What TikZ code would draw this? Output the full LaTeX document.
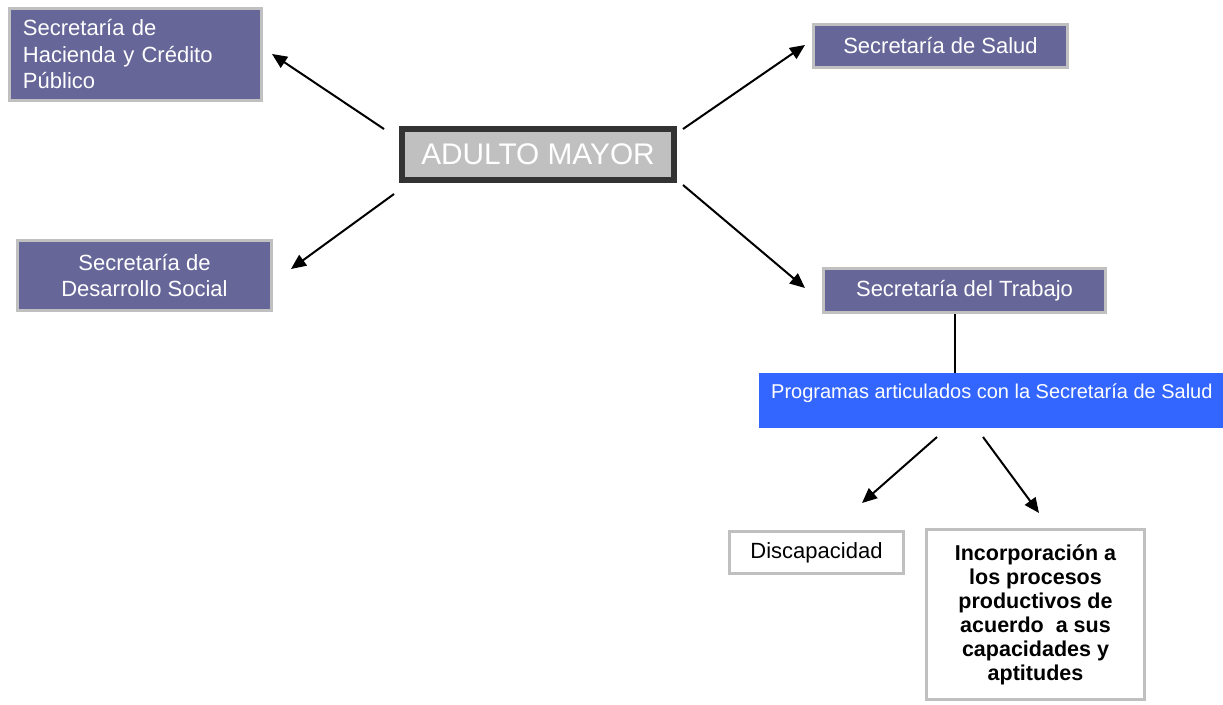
\documentclass[tikz,border=0pt]{standalone}
\usepackage{fontspec}
\setmainfont{Liberation Sans}
\usetikzlibrary{arrows.meta, positioning}
\definecolor{secpurple}{RGB}{102,102,153}
\definecolor{boxgray}{RGB}{192,192,192}
\definecolor{darkframe}{RGB}{51,51,51}
\definecolor{progblue}{RGB}{51,102,255}

\begin{document}
\begin{tikzpicture}[x=1pt, y=-1pt,
    secbox/.style={draw=boxgray, line width=3pt, fill=secpurple, text=white,
        font=\fontsize{22}{26.5}\selectfont, align=center, inner sep=0pt},
    whitebox/.style={draw=boxgray, line width=3pt, fill=white, text=black,
        font=\fontsize{22}{24}\selectfont, align=center, inner sep=0pt},
    arr/.style={line width=2pt, -{Triangle[length=15pt, width=13pt]}}]
\useasboundingbox (0,0) rectangle (1223,704);
% Central node
\node[draw=darkframe, line width=6pt, fill=boxgray, text=white,
    font=\fontsize{29.8}{32}\selectfont, minimum width=272, minimum height=51,
    inner sep=0pt] (adulto) at (538,154.5) {ADULTO MAYOR};
% Secretarias
\node[secbox, align=left, text width=225, inner xsep=13.5pt,
    minimum width=252, minimum height=92] (hacienda) at (135.5,54.5)
    {Secretaría de\\Hacienda y Crédito\\Público};
\node[secbox, minimum width=254, minimum height=43] (salud) at (940.5,46)
    {Secretaría de Salud};
\node[secbox, font=\fontsize{22}{26}\selectfont, minimum width=254,
    minimum height=70] (desarrollo) at (144.5,275.5)
    {Secretaría de\\Desarrollo Social};
\node[secbox, minimum width=282, minimum height=44] (trabajo) at (964.5,290.5)
    {Secretaría del Trabajo};
% Programas
\node[fill=progblue, text=white, font=\fontsize{20}{24}\selectfont,
    anchor=north west, minimum width=464, inner xsep=12pt, inner ysep=0pt,
    text height=25pt, text depth=30pt] (programas) at (759,373)
    {Programas articulados con la Secretaría de Salud};
\node[whitebox, minimum width=174, minimum height=42] (discapacidad) at (816.5,552.5)
    {Discapacidad};
\node[whitebox, font=\fontsize{21.5}{24}\selectfont\bfseries, minimum width=218,
    minimum height=170] (incorporacion) at (1035.5,614.5)
    {Incorporación a\\los procesos\\productivos de\\acuerdo~ a sus\\capacidades y\\aptitudes};
% Arrow ends
\coordinate (hac-s) at (384,129);  \coordinate (hac-e) at (272,54);
\coordinate (sal-s) at (683,129);  \coordinate (sal-e) at (805,45);
\coordinate (des-s) at (394,194);  \coordinate (des-e) at (291,269);
\coordinate (tra-s) at (683,185);  \coordinate (tra-e) at (805,288);
\coordinate (dis-s) at (937,437);  \coordinate (dis-e) at (862,503);
\coordinate (inc-s) at (983,437);  \coordinate (inc-e) at (1039,513);
\draw[arr] (hac-s) -- (hac-e);
\draw[arr] (sal-s) -- (sal-e);
\draw[arr] (des-s) -- (des-e);
\draw[arr] (tra-s) -- (tra-e);
\draw[arr] (dis-s) -- (dis-e);
\draw[arr] (inc-s) -- (inc-e);
% Trabajo to Programas
\draw[line width=2pt] ([xshift=-9.5pt]trabajo.south) -- ([xshift=-9.5pt]trabajo.south |- programas.north);
\end{tikzpicture}
\end{document}
